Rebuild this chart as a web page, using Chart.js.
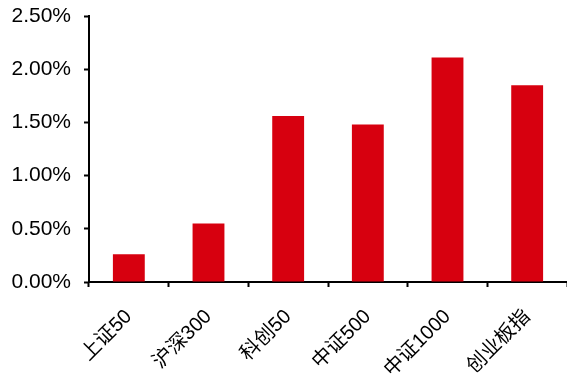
<!DOCTYPE html>
<html>
<head>
<meta charset="utf-8">
<script src="https://cdn.jsdelivr.net/npm/chart.js@4/dist/chart.umd.min.js"></script>
<style>
  html, body { margin: 0; padding: 0; background: #fff; }
  #wrap { width: 567px; height: 376px; }
</style>
</head>
<body>
<div id="wrap"><canvas id="c" width="567" height="376"></canvas></div>
<script>
// Index names and their values (percent)
const categories = ['上证50', '沪深300', '科创50', '中证500', '中证1000', '创业板指'];
const values = [0.26, 0.55, 1.56, 1.48, 2.11, 1.85];
const yTicks = [0, 0.5, 1.0, 1.5, 2.0, 2.5];

const FONT = '"Liberation Sans", Arial, "Noto Sans CJK SC", sans-serif';

new Chart(document.getElementById('c'), {
  type: 'bar',
  data: {
    labels: categories,
    datasets: [{
      data: values,
      backgroundColor: '#d7000f',
      borderWidth: 0,
      categoryPercentage: 0.4,
      barPercentage: 1.0
    }]
  },
  options: {
    responsive: false,
    animation: false,
    devicePixelRatio: 1,
    layout: { padding: { top: 16, right: 0, left: 0, bottom: 0 } },
    plugins: { legend: { display: false }, tooltip: { enabled: false } },
    scales: {
      x: {
        grid: {
          display: true,
          offset: true,
          drawOnChartArea: false,
          drawTicks: true,
          tickLength: 5,
          tickWidth: 2,
          tickColor: '#000'
        },
        border: { display: true, color: '#000', width: 2 },
        ticks: {
          color: '#000',
          font: { family: FONT, size: 20 },
          minRotation: 45,
          maxRotation: 45,
          autoSkip: false,
          padding: 18
        },
        afterFit(scale) {
          scale.height = 94;
          scale.paddingLeft = 0;
          scale.paddingRight = 0;
        }
      },
      y: {
        min: 0,
        max: 2.5,
        afterBuildTicks(scale) { scale.ticks = yTicks.map(v => ({ value: v })); },
        grid: {
          display: true,
          drawOnChartArea: false,
          drawTicks: true,
          tickLength: 5,
          tickWidth: 2,
          tickColor: '#000'
        },
        border: { display: true, color: '#000', width: 2 },
        ticks: {
          color: '#000',
          font: { family: FONT, size: 21 },
          padding: 13,
          callback: v => v.toFixed(2) + '%'
        },
        afterFit(scale) {
          scale.width = 89;
          scale.paddingTop = 0;
          scale.paddingBottom = 0;
        }
      }
    }
  }
});
</script>
</body>
</html>
